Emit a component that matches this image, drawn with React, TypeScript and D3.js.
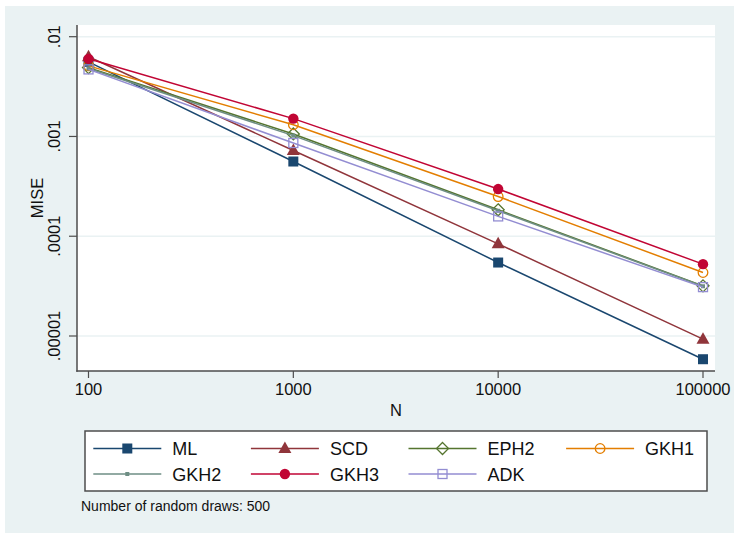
import React, { useRef, useEffect, useCallback } from 'react'
import * as d3 from "d3"

const sampleSizes = [100, 1000, 10000, 100000]

const mlValues = [0.0056, 0.000561, 0.0000545, 0.00000585]
const scdValues = [0.0063, 0.000724, 0.0000839, 0.0000093]
const eph2Values = [0.0049, 0.00106, 0.000184, 0.0000318]
const gkh1Values = [0.0051, 0.00131, 0.00025, 0.0000433]
const gkh2Values = [0.0048, 0.00102, 0.00018, 0.0000315]
const gkh3Values = [0.006, 0.00151, 0.000297, 0.0000525]
const adkValues = [0.0047, 0.00086, 0.000158, 0.0000309]

const yTicks = [0.00001, 0.0001, 0.001, 0.01]
const yTickLabels = [".00001", ".0001", ".001", ".01"]
const xTickLabels = ["100", "1000", "10000", "100000"]

const seriesNames = ["ML", "SCD", "EPH2", "GKH1", "GKH2", "GKH3", "ADK"]
const seriesValues = [mlValues, scdValues, eph2Values, gkh1Values, gkh2Values, gkh3Values, adkValues]
const seriesColors = ["#1a476f", "#90353b", "#55752f", "#e37e00", "#6e8e84", "#c10534", "#938dd2"]
const seriesMarkers = ["square", "triangle", "diamondHollow", "circleHollow", "tiny", "circle", "squareHollow"]

const footnote = "Number of random draws: 500"

const W = 734, H = 533
const font = "'Liberation Sans', Arial, Helvetica, sans-serif"

const App = () => {
    const chartRef = useRef<HTMLDivElement>(null)

    const drawChart = useCallback(() => {
        if (!chartRef.current) return
        const svg = d3.select(chartRef.current)
            .append("svg")
            .attr("width", W)
            .attr("height", H)
            .style("position", "absolute")
            .style("left", 0)
            .style("top", 0)
            .style("font-family", font)

        svg.append("rect").attr("width", W).attr("height", H).attr("fill", "#fff")
        svg.append("rect").attr("x", 5).attr("y", 6).attr("width", W - 5).attr("height", H - 6).attr("fill", "#eaf2f3")

        const plot = { left: 77, right: 715, top: 25, bottom: 371 }
        svg.append("rect")
            .attr("x", plot.left).attr("y", plot.top)
            .attr("width", plot.right - plot.left).attr("height", plot.bottom - plot.top)
            .attr("fill", "#fff")

        const x = d3.scaleLog().domain([100, 100000]).range([88.5, 703])
        const y = d3.scaleLog().domain([0.00001, 0.01]).range([336, 36.7])

        // grid
        svg.append("g").selectAll("line").data(yTicks).join("line")
            .attr("x1", plot.left).attr("x2", plot.right)
            .attr("y1", d => y(d)).attr("y2", d => y(d))
            .attr("stroke", "#eaf2f3").attr("stroke-width", 1.5)

        // axes
        const axisColor = "#4d4d4d"
        svg.append("line").attr("x1", plot.left).attr("x2", plot.left)
            .attr("y1", plot.top).attr("y2", plot.bottom + 0.75)
            .attr("stroke", axisColor).attr("stroke-width", 1.5)
        svg.append("line").attr("x1", plot.left - 0.75).attr("x2", plot.right)
            .attr("y1", plot.bottom).attr("y2", plot.bottom)
            .attr("stroke", axisColor).attr("stroke-width", 1.5)

        const yg = svg.append("g")
        yTicks.forEach((t, i) => {
            yg.append("line").attr("x1", plot.left - 8).attr("x2", plot.left)
                .attr("y1", y(t)).attr("y2", y(t)).attr("stroke", axisColor).attr("stroke-width", 1.2)
            yg.append("text")
                .attr("transform", `translate(60, ${y(t)}) rotate(-90)`)
                .attr("text-anchor", "middle")
                .attr("font-size", 16.5)
                .attr("fill", "#111")
                .text(yTickLabels[i])
        })
        const xg = svg.append("g")
        sampleSizes.forEach((t, i) => {
            xg.append("line").attr("x1", x(t)).attr("x2", x(t))
                .attr("y1", plot.bottom).attr("y2", plot.bottom + 7).attr("stroke", axisColor).attr("stroke-width", 1.2)
            xg.append("text")
                .attr("x", x(t)).attr("y", 395)
                .attr("text-anchor", "middle")
                .attr("font-size", 16.5)
                .attr("fill", "#111")
                .text(xTickLabels[i])
        })

        svg.append("text").attr("x", (plot.left + plot.right) / 2).attr("y", 416)
            .attr("text-anchor", "middle").attr("font-size", 16.5).attr("fill", "#111").text("N")
        svg.append("text")
            .attr("transform", `translate(43, ${(plot.top + plot.bottom) / 2}) rotate(-90)`)
            .attr("text-anchor", "middle").attr("font-size", 16.5).attr("fill", "#111").text("MISE")

        const drawMarker = (g: any, kind: string, cx: number, cy: number, color: string) => {
            if (kind === "square") {
                g.append("rect").attr("x", cx - 5).attr("y", cy - 5).attr("width", 10).attr("height", 10).attr("fill", color)
            } else if (kind === "squareHollow") {
                g.append("rect").attr("x", cx - 4.5).attr("y", cy - 4.5).attr("width", 9).attr("height", 9)
                    .attr("fill", "none").attr("stroke", color).attr("stroke-width", 1.3)
            } else if (kind === "triangle") {
                g.append("path").attr("d", `M${cx},${cy - 7}L${cx + 6.5},${cy + 4.5}L${cx - 6.5},${cy + 4.5}Z`).attr("fill", color)
            } else if (kind === "diamondHollow") {
                g.append("path").attr("d", `M${cx},${cy - 6}L${cx + 6},${cy}L${cx},${cy + 6}L${cx - 6},${cy}Z`)
                    .attr("fill", "none").attr("stroke", color).attr("stroke-width", 1.3)
            } else if (kind === "circleHollow") {
                g.append("circle").attr("cx", cx).attr("cy", cy).attr("r", 4.8)
                    .attr("fill", "none").attr("stroke", color).attr("stroke-width", 1.3)
            } else if (kind === "circle") {
                g.append("circle").attr("cx", cx).attr("cy", cy).attr("r", 5.2).attr("fill", color)
            } else if (kind === "tiny") {
                g.append("rect").attr("x", cx - 2).attr("y", cy - 2).attr("width", 4).attr("height", 4).attr("fill", color)
            }
        }

        const line = d3.line<number>().x((_, i) => x(sampleSizes[i])).y(d => y(d))
        const sg = svg.append("g")
        seriesValues.forEach((vals, s) => {
            sg.append("path").attr("d", line(vals)).attr("fill", "none")
                .attr("stroke", seriesColors[s]).attr("stroke-width", 1.5)
            vals.forEach((v, i) => drawMarker(sg, seriesMarkers[s], x(sampleSizes[i]), y(v), seriesColors[s]))
        })

        // legend
        const lg = svg.append("g")
        lg.append("rect").attr("x", 85).attr("y", 431).attr("width", 622).attr("height", 60)
            .attr("fill", "#fff").attr("stroke", "#4d4d4d").attr("stroke-width", 1.5)
        seriesNames.forEach((name, s) => {
            const col = s % 4, row = Math.floor(s / 4)
            const lx = 93.3 + col * 157.6
            const ly = row === 0 ? 448.5 : 474
            lg.append("line").attr("x1", lx).attr("x2", lx + 68).attr("y1", ly).attr("y2", ly)
                .attr("stroke", seriesColors[s]).attr("stroke-width", 1.5)
            drawMarker(lg, seriesMarkers[s], lx + 34, ly, seriesColors[s])
            lg.append("text").attr("x", lx + 79).attr("y", ly + 6.5)
                .attr("font-size", 18).attr("fill", "#111").text(name)
        })

        svg.append("text").attr("x", 81).attr("y", 511).attr("font-size", 14).attr("fill", "#111").text(footnote)
    }, [])

    const destroyChart = useCallback(() => {
        if (chartRef.current) {
            d3.select(chartRef.current).select("svg").remove()
        }
    }, [])

    useEffect(() => {
        drawChart()
        return () => destroyChart()
    }, [drawChart, destroyChart])

    return <div ref={chartRef} style={{ width: W, height: H }}></div>
}

export default App
